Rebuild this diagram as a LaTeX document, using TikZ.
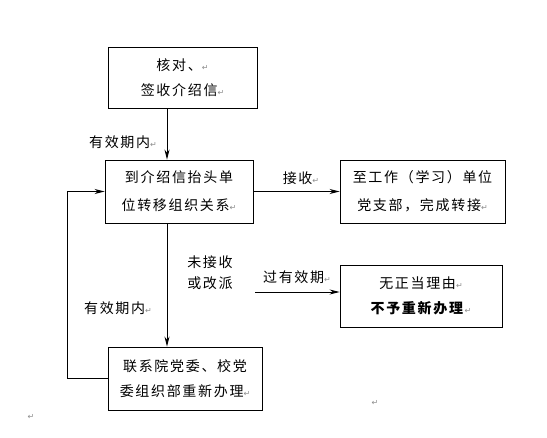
\documentclass[tikz,border=0pt]{standalone}
\usepackage{fontspec}
\usetikzlibrary{arrows.meta}
\newfontfamily\cjk[LetterSpace=12]{Noto Sans CJK SC}
\newfontfamily\dejavu{DejaVu Sans}
\newcommand\rmk{\textcolor{black!45}{\fontsize{8}{8}\selectfont\dejavu ↵}}
\tikzset{
  box/.style={draw=black, line width=0.9pt, inner sep=0pt, align=center,
    font=\cjk\fontsize{14}{25}\selectfont},
  lbl/.style={inner sep=0pt, align=center, font=\cjk\fontsize{14}{21}\selectfont},
  conn/.style={line width=0.9pt, -{Stealth[length=10pt,width=5pt]}},
  line/.style={line width=0.9pt}
}
\begin{document}
\begin{tikzpicture}[x=1pt,y=-1pt]
\useasboundingbox (0,0) rectangle (547,438);
\node[box, minimum width=149pt, minimum height=61pt] (b1) at (182.5,77.5) {核对、\rmk\\签收介绍信\rmk};
\node[box, minimum width=148pt, minimum height=63pt, font=\cjk\fontsize{14}{28}\selectfont] (b2) at (179,191.5) {到介绍信抬头单\\位转移组织关系\rmk};
\node[box, minimum width=165pt, minimum height=63pt, font=\cjk\fontsize{14}{28}\selectfont] (b3) at (422.5,191.5) {至工作（学习）单位\\党支部，完成转接\rmk};
\node[box, minimum width=162pt, minimum height=62pt] (b5) at (421,296) {无正当理由\rmk\\\textbf{不予重新办理}\rmk};
\node[box, minimum width=154pt, minimum height=63pt] (b4) at (185,378.5) {联系院党委、校党\\委组织部重新办理\rmk};
\coordinate (cx) at (167,0);
\coordinate (fb) at (67,0);
\coordinate (g1) at (255,292);
\draw[conn] (b1.south -| cx) -- (b2.north -| cx);
\draw[conn] (b2.east) -- (b3.west);
\draw[conn] (b2.south -| cx) -- (b4.north -| cx);
\draw[conn] (b4.west) -- (b4.west -| fb) -- (b2.west -| fb) -- (b2.west);
\draw[conn] (g1) -- (g1 -| b5.west);
\node[lbl] (l1) at (123,142) {有效期内\rmk};
\node[lbl] (l2) at (301,178) {接收\rmk};
\node[lbl] (l3) at (210,272.5) {未接收\\或改派};
\node[lbl] (l4) at (297,277) {过有效期\rmk};
\node[lbl] (l5) at (118,308) {有效期内\rmk};
\node[inner sep=0pt] (m1) at (31,417) {\rmk};
\node[inner sep=0pt] (m2) at (375,403) {\rmk};
\end{tikzpicture}
\end{document}
